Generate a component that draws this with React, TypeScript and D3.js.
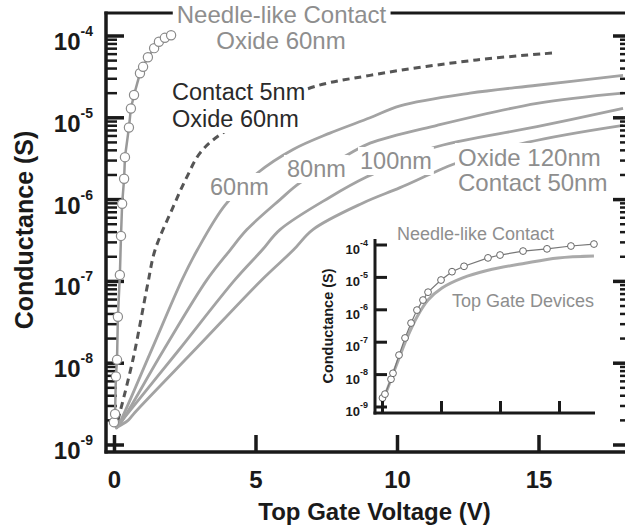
import React, { useLayoutEffect, useRef, useState } from 'react';
import * as d3 from 'd3';

const FONT = '"Liberation Sans", Arial, Helvetica, sans-serif';

// main panel, needle-like contact (oxide 60nm)
const needleV = [-0.02, 0.02, 0.05, 0.09, 0.12, 0.19, 0.23, 0.27, 0.34, 0.37, 0.51, 0.58, 0.69, 0.9, 1.01, 1.18, 1.4, 1.57, 1.78, 2.0];
const needleG = [1.9e-9, 2.4e-9, 6.9e-9, 1.1e-8, 3.7e-8, 1.2e-7, 3.6e-7, 8.9e-7, 1.8e-6, 3.3e-6, 7.6e-6, 1.3e-5, 1.9e-5, 3.5e-5, 4.2e-5, 5.5e-5, 7.1e-5, 8.5e-5, 9.5e-5, 1.02e-4];

// contact 5nm, oxide 60nm (dashed)
const c5V = [0.12, 0.65, 1.18, 1.43, 2.07, 2.56, 3.02, 3.73, 6.73, 9.03, 12.8, 15.5];
const c5G = [2.0e-9, 1.1e-8, 9.5e-8, 2.4e-7, 8.1e-7, 1.9e-6, 3.7e-6, 6.2e-6, 2.2e-5, 3.3e-5, 5.1e-5, 6.2e-5];

// contact 50nm, oxide 60 / 80 / 100 / 120 nm
const ox60V = [0.05, 0.12, 1.25, 2.39, 2.92, 3.9, 5.04, 6.31, 7.61, 9.03, 10.09, 12.56, 14.93, 17.97];
const ox60G = [1.6e-9, 1.7e-9, 1.3e-8, 1.05e-7, 2.4e-7, 8.5e-7, 2.1e-6, 4.1e-6, 6.5e-6, 1.0e-5, 1.4e-5, 2.0e-5, 2.5e-5, 3.3e-5];
const ox80V = [0.05, 0.19, 1.71, 3.27, 4.08, 4.68, 5.85, 6.55, 8.22, 9.03, 11.4, 14.93, 17.97];
const ox80G = [1.6e-9, 1.8e-9, 1.4e-8, 1.05e-7, 2.4e-7, 4.3e-7, 1.0e-6, 1.6e-6, 3.5e-6, 4.9e-6, 8.1e-6, 1.5e-5, 2.0e-5];
const ox100V = [0.05, 0.27, 2.24, 4.26, 5.21, 5.85, 7.61, 8.92, 10.09, 11.25, 14.93, 17.97];
const ox100G = [1.6e-9, 2.0e-9, 1.4e-8, 1.05e-7, 2.4e-7, 4.3e-7, 1.07e-6, 1.9e-6, 2.8e-6, 4.3e-6, 7.8e-6, 1.3e-5];
const ox120V = [0.02, 0.48, 0.72, 2.95, 5.21, 6.31, 7.01, 8.78, 10.09, 11.22, 12.1, 14.58, 17.97];
const ox120G = [1.6e-9, 2.0e-9, 2.5e-9, 1.6e-8, 1.05e-7, 2.4e-7, 4.3e-7, 9.1e-7, 1.4e-6, 2.1e-6, 2.8e-6, 5.0e-6, 8.1e-6];

// inset
const inNeedleV = [0, 0.21, 0.72, 0.89, 1.4, 1.91, 2.42, 2.92, 3.43, 3.86, 4.96, 5.89, 6.91, 8.94, 9.96, 11.91, 13.94, 15.97, 17.92];
const inNeedleG = [1.9e-9, 2.5e-9, 7.2e-9, 1.1e-8, 4.0e-8, 1.35e-7, 3.9e-7, 9.8e-7, 2.0e-6, 3.5e-6, 8.3e-6, 1.5e-5, 2.2e-5, 4.0e-5, 4.9e-5, 6.5e-5, 7.6e-5, 9.3e-5, 1.07e-4];
const inTopV = [0, 0.64, 1.4, 2.08, 2.92, 3.86, 5.04, 6.74, 8.94, 12.08, 14.87, 17.92];
const inTopG = [1.4e-9, 5.9e-9, 3.2e-8, 1.35e-7, 6.0e-7, 2.0e-6, 4.7e-6, 9.5e-6, 1.66e-5, 2.75e-5, 4.0e-5, 4.6e-5];

const xTicks = [0, 5, 10, 15];
const yDecades = [-9, -8, -7, -6, -5, -4];

const zip = (a: number[], b: number[]) => a.map((v, i) => [v, b[i]] as [number, number]);

function Label({ x, y, lines, gap, size, fill, anchor = 'start', padX = 3, padY = 1, bg = true }: any) {
  const ref = useRef<SVGTextElement>(null);
  const [box, setBox] = useState<any>(null);
  useLayoutEffect(() => {
    if (ref.current) setBox(ref.current.getBBox());
  }, []);
  return (
    <g>
      {bg && box && (
        <rect x={box.x - padX} y={box.y - padY} width={box.width + 2 * padX} height={box.height + 2 * padY} fill="#fff" />
      )}
      <text ref={ref} x={x} y={y} fontSize={size} fill={fill} textAnchor={anchor}>
        {lines.map((s: string, i: number) => (
          <tspan key={i} x={x} dy={i === 0 ? 0 : gap}>{s}</tspan>
        ))}
      </text>
    </g>
  );
}

export default function App() {
  const x = d3.scaleLinear().domain([-0.3, 18]).range([106, 623.9]);
  const y = d3.scaleLog().domain([1e-9, 1e-4]).range([445, 36]);
  const xi = d3.scaleLinear().domain([0, 18]).range([382.5, 594.9]);
  const yi = d3.scaleLog().domain([1e-9, 1e-4]).range([407, 245]);

  const smooth = d3.line<[number, number]>().x(d => x(d[0])).y(d => y(d[1])).curve(d3.curveCatmullRom.alpha(0.5));
  const straight = d3.line<[number, number]>().x(d => x(d[0])).y(d => y(d[1]));
  const smoothI = d3.line<[number, number]>().x(d => xi(d[0])).y(d => yi(d[1])).curve(d3.curveCatmullRom.alpha(0.5));
  const straightI = d3.line<[number, number]>().x(d => xi(d[0])).y(d => yi(d[1]));

  const minors: number[] = [];
  yDecades.slice(0, -1).forEach(e => { for (let k = 2; k <= 9; k++) minors.push(k * Math.pow(10, e)); });

  const grey = '#a3a3a3';
  const labelGrey = '#8e8e8e';
  const ink = '#1a1a1a';

  const oxides = [zip(ox60V, ox60G), zip(ox80V, ox80G), zip(ox100V, ox100G), zip(ox120V, ox120G)];

  return (
    <svg width={625} height={528} style={{ position: 'absolute', left: 0, top: 0, background: '#fff' }} fontFamily={FONT}>
      {/* main curves */}
      {oxides.map((d, i) => (
        <path key={i} d={smooth(d) || ''} fill="none" stroke={grey} strokeWidth={2.8} />
      ))}
      <path d={smooth(zip(c5V, c5G)) || ''} fill="none" stroke="#555" strokeWidth={3} strokeDasharray="7,5" />

      {/* frame */}
      <line x1={104.5} x2={625} y1={13} y2={13} stroke={ink} strokeWidth={3} />
      <line x1={106} x2={106} y1={11.5} y2={453.5} stroke={ink} strokeWidth={3.5} />
      <line x1={104.5} x2={625} y1={452} y2={452} stroke={ink} strokeWidth={3.5} />
      <line x1={627} x2={627} y1={13} y2={452} stroke={ink} strokeWidth={3.5} />
      {yDecades.map(e => (
        <g key={e}>
          <line x1={106} x2={124} y1={y(Math.pow(10, e))} y2={y(Math.pow(10, e))} stroke={ink} strokeWidth={3.5} />
          <line x1={613} x2={627} y1={y(Math.pow(10, e))} y2={y(Math.pow(10, e))} stroke={ink} strokeWidth={3.5} />
          <text x={93} y={y(Math.pow(10, e)) + 14} fontSize={24} fontWeight="bold" textAnchor="end" fill={ink}>
            10<tspan dy={-14} fontSize={14}>{`-${-e}`}</tspan>
          </text>
        </g>
      ))}
      {minors.map((v, i) => (
        <g key={i}>
          <line x1={106} x2={117} y1={y(v)} y2={y(v)} stroke={ink} strokeWidth={2.5} />
          <line x1={620} x2={627} y1={y(v)} y2={y(v)} stroke={ink} strokeWidth={2.5} />
        </g>
      ))}
      {xTicks.map(t => (
        <g key={t}>
          <line x1={x(t)} x2={x(t)} y1={452} y2={435} stroke={ink} strokeWidth={3.5} />
          <text x={x(t)} y={488} fontSize={24} fontWeight="bold" textAnchor="middle" fill={ink}>{t}</text>
        </g>
      ))}
      <text x={374.5} y={520} fontSize={24} fontWeight="bold" textAnchor="middle" fill={ink}>Top Gate Voltage (V)</text>
      <text transform="translate(33,230) rotate(-90)" fontSize={25} fontWeight="bold" textAnchor="middle" fill={ink}>Conductance (S)</text>

      {/* needle-like contact */}
      <path d={straight(zip(needleV, needleG)) || ''} fill="none" stroke="#999" strokeWidth={2.5} />
      {needleV.map((v, i) => (
        <circle key={i} cx={x(v)} cy={y(needleG[i])} r={4.6} fill="#fff" stroke="#8a8a8a" strokeWidth={1.2} />
      ))}

      {/* labels */}
      <Label x={281.5} y={23} lines={['Needle-like Contact']} size={24} fill={labelGrey} anchor="middle" padX={4} />
      <Label x={281} y={49} lines={['Oxide 60nm']} size={24} fill={labelGrey} anchor="middle" bg={false} />
      <Label x={172} y={100} lines={['Contact 5nm', 'Oxide 60nm']} gap={27} size={23.5} fill="#2a2a2a" padX={2} />
      <Label x={210} y={195} lines={['60nm']} size={23.5} fill={labelGrey} />
      <Label x={287} y={177} lines={['80nm']} size={23.5} fill={labelGrey} />
      <Label x={360} y={169} lines={['100nm']} size={23.5} fill={labelGrey} padX={2} />
      <Label x={458} y={166} lines={['Oxide 120nm', 'Contact 50nm']} gap={25} size={24} fill={labelGrey} />

      {/* inset */}
      <path d={smoothI(zip(inTopV, inTopG)) || ''} fill="none" stroke="#aaa" strokeWidth={3} />
      <path d={straightI(zip(inNeedleV, inNeedleG)) || ''} fill="none" stroke="#777" strokeWidth={1.2} />
      {inNeedleV.map((v, i) => (
        <circle key={i} cx={xi(v)} cy={yi(inNeedleG[i])} r={3.4} fill="#fff" stroke="#666" strokeWidth={1} />
      ))}
      <line x1={375} x2={375} y1={239} y2={414.5} stroke={ink} strokeWidth={3} />
      <line x1={373.5} x2={595} y1={413} y2={413} stroke={ink} strokeWidth={3} />
      {yDecades.map(e => (
        <g key={e}>
          <line x1={375} x2={387} y1={yi(Math.pow(10, e))} y2={yi(Math.pow(10, e))} stroke={ink} strokeWidth={3} />
          <text x={368} y={yi(Math.pow(10, e)) + 9} fontSize={13} fontWeight="bold" textAnchor="end" fill={ink}>
            10<tspan dy={-8.5} fontSize={9}>{`-${-e}`}</tspan>
          </text>
        </g>
      ))}
      {xTicks.map(t => (
        <line key={t} x1={xi(t)} x2={xi(t)} y1={413} y2={401} stroke={ink} strokeWidth={3} />
      ))}
      <text transform="translate(333,326) rotate(-90)" fontSize={14.5} fontWeight="bold" textAnchor="middle" fill={ink}>Conductance (S)</text>
      <text x={475.5} y={240} fontSize={18} fill={labelGrey} textAnchor="middle">Needle-like Contact</text>
      <text x={452} y={307} fontSize={18} fill={labelGrey}>Top Gate Devices</text>
    </svg>
  );
}
